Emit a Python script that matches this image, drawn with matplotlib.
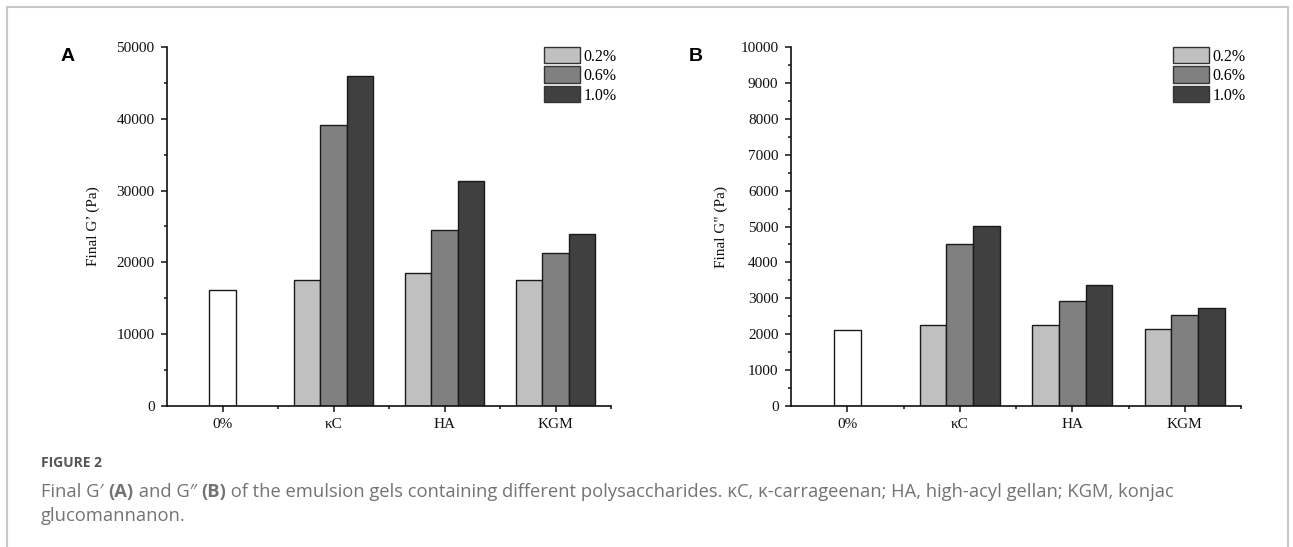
import matplotlib
matplotlib.use("Agg")
import matplotlib.pyplot as plt
from matplotlib.lines import Line2D
import numpy as np

categories = ["0%", "\u03baC", "HA", "KGM"]
conc_labels = ["0.2%", "0.6%", "1.0%"]

# Final G' (Pa)
g1_control = 16200
g1_low = [17500, 18500, 17600]
g1_mid = [39200, 24500, 21300]
g1_high = [46000, 31300, 23900]

# Final G'' (Pa)
g2_control = 2130
g2_low = [2260, 2260, 2140]
g2_mid = [4500, 2920, 2540]
g2_high = [5020, 3360, 2740]

colors = ["#c0c0c0", "#808080", "#404040"]
edge = "#1a1a1a"
serif = ["Liberation Serif", "DejaVu Serif"]

fig = plt.figure(figsize=(12.93, 5.47), dpi=100)

ax1 = fig.add_axes([167/1293, 141/547, 444/1293, 359/547])
ax2 = fig.add_axes([791/1293, 141/547, 450/1293, 359/547])


def draw_panel(ax, control, low, mid, high, ymax, step, ylabel, labelx):
    w = 0.236
    x = np.arange(1, len(categories))
    ax.bar(0, control, w, color="white", edgecolor=edge, linewidth=1)
    for k, vals in enumerate([low, mid, high]):
        ax.bar(x + (k - 1) * w, vals, w, color=colors[k], edgecolor=edge,
               linewidth=1, label=conc_labels[k])
    ax.set_xlim(-0.5, 3.5)
    ax.set_ylim(0, ymax)
    ax.set_yticks(np.arange(0, ymax + 1, step))
    ax.set_yticks(np.arange(step / 2, ymax, step), minor=True)
    ax.set_xticks(range(len(categories)))
    ax.set_xticklabels(categories)
    ax.set_xticks([0.5, 1.5, 2.5, 3.5], minor=True)
    for s in ["top", "right"]:
        ax.spines[s].set_visible(False)
    for s in ["left", "bottom"]:
        ax.spines[s].set_linewidth(1.2)
        ax.spines[s].set_color("#111111")
    ax.tick_params(which="major", direction="out", length=4, width=1.1,
                   pad=5, labelsize=11, colors="#111111")
    ax.tick_params(which="minor", direction="out", length=2.5, width=1.1,
                   colors="#111111")
    for lab in ax.get_xticklabels() + ax.get_yticklabels():
        lab.set_family(serif)
    ax.set_ylabel(ylabel, family=serif, fontsize=11, color="#111111")
    ax.yaxis.set_label_coords(labelx, 0.5)
    leg = ax.legend(loc="upper left", bbox_to_anchor=(0.848, 1.0),
                    frameon=False, borderpad=0, borderaxespad=0,
                    handlelength=2.3, handleheight=1.2, labelspacing=0.12,
                    handletextpad=0.2, prop={"family": serif, "size": 11.5})
    for h in leg.legend_handles:
        h.set_edgecolor("#333333")
        h.set_linewidth(1)


draw_panel(ax1, g1_control, g1_low, g1_mid, g1_high, 50000, 10000,
           "Final G\u2019 (Pa)", -0.15)
draw_panel(ax2, g2_control, g2_low, g2_mid, g2_high, 10000, 1000,
           "Final G\" (Pa)", -0.14)

fig.text(61/1293, 1 - 61/547, "A", family=["Liberation Sans", "DejaVu Sans"],
         fontsize=14, fontweight="bold", va="baseline", ha="left")
fig.text(689/1293, 1 - 61/547, "B", family=["Liberation Sans", "DejaVu Sans"],
         fontsize=14, fontweight="bold", va="baseline", ha="left")

# frame around the figure
fc = "#c8c8c8"
fig.add_artist(Line2D([7/1293, 7/1293], [0, 1 - 7/547], color=fc, lw=1.5,
                      transform=fig.transFigure))
fig.add_artist(Line2D([7/1293, 1288/1293], [1 - 7/547, 1 - 7/547], color=fc,
                      lw=1.5, transform=fig.transFigure))
fig.add_artist(Line2D([1288/1293, 1288/1293], [0, 1 - 7/547], color=fc,
                      lw=1.5, transform=fig.transFigure))

# caption
cap_font = ["Open Sans", "DejaVu Sans"]
cap_col = "#737373"
fig.text(41/1293, 1 - 467/547, "FIGURE 2", family=cap_font, fontsize=10,
         fontweight="bold", color="#555555", va="baseline")

pieces = [("Final G\u2032 ", "normal"), ("(A)", "bold"), (" and G\u2033 ", "normal"),
          ("(B)", "bold"),
          (" of the emulsion gels containing different polysaccharides. "
           "\u03baC, \u03ba-carrageenan; HA, high-acyl gellan; KGM, konjac", "normal")]
renderer = fig.canvas.get_renderer()
xpos = 41
for txt, wt in pieces:
    t = fig.text(xpos/1293, 1 - 497/547, txt, family=cap_font, fontsize=13.2,
                 fontweight=wt, color=cap_col, va="baseline")
    xpos += t.get_window_extent(renderer).width
fig.text(41/1293, 1 - 521/547, "glucomannanon.", family=cap_font, fontsize=13.2,
         color=cap_col, va="baseline")

fig.savefig("out.png", dpi=100)
